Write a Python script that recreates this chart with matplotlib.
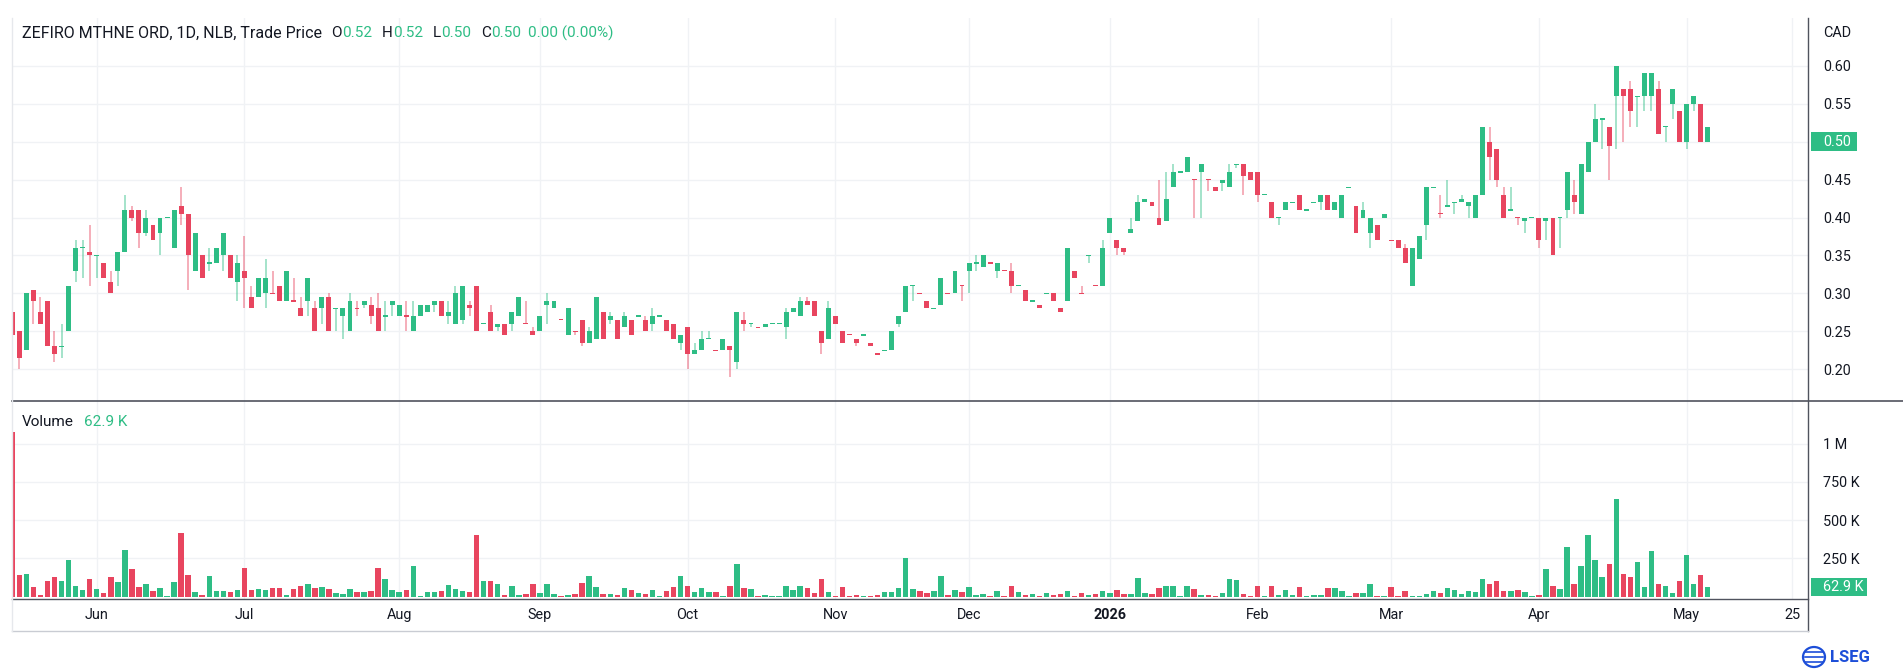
import numpy as np
import matplotlib
matplotlib.use("Agg")
import matplotlib.pyplot as plt
from matplotlib.patches import Rectangle, Ellipse
from matplotlib.lines import Line2D

plt.rcParams['font.family'] = ['Roboto', 'DejaVu Sans']

# ---------------- data (daily bars, index 0 = first visible bar) ----------------
opens = [
    0.275, 0.25, 0.225, 0.305, 0.275, 0.29, 0.23, 0.23, 0.25, 0.33,
    0.36, 0.355, 0.35, 0.34, 0.315, 0.33, 0.355, 0.41, 0.41, 0.38,
    0.39, 0.38, 0.40, 0.36, 0.415, 0.405, 0.33, 0.35, 0.34, 0.34,
    0.35, 0.35, 0.315, 0.33, 0.295, 0.295, 0.30, 0.30, 0.31, 0.29,
    0.29, 0.28, 0.29, 0.28, 0.28, 0.295, 0.28, 0.27, 0.25, 0.28,
    0.285, 0.285, 0.28, 0.27, 0.285, 0.27, 0.27, 0.25, 0.27, 0.275,
    0.285, 0.29, 0.27, 0.26, 0.265, 0.285, 0.31, 0.26, 0.275, 0.255,
    0.26, 0.26, 0.27, 0.26, 0.25, 0.25, 0.285, 0.28, 0.265, 0.245,
    0.25, 0.265, 0.235, 0.24, 0.275, 0.265, 0.265, 0.255, 0.265, 0.27,
    0.265, 0.26, 0.27, 0.265, 0.26, 0.235, 0.255, 0.22, 0.225, 0.24,
    0.225, 0.225, 0.23, 0.21, 0.265, 0.26, 0.255, 0.255, 0.26, 0.26,
    0.255, 0.275, 0.27, 0.29, 0.29, 0.25, 0.24, 0.27, 0.25, 0.246,
    0.24, 0.245, 0.235, 0.22, 0.225, 0.225, 0.26, 0.275, 0.31, 0.30,
    0.29, 0.28, 0.285, 0.30, 0.30, 0.31, 0.33, 0.34, 0.335, 0.34,
    0.33, 0.33, 0.33, 0.31, 0.305, 0.29, 0.285, 0.30, 0.30, 0.28,
    0.29, 0.33, 0.30, 0.35, 0.31, 0.31, 0.38, 0.37, 0.36, 0.38,
    0.395, 0.42, 0.42, 0.40, 0.395, 0.44, 0.46, 0.46, 0.45, 0.46,
    0.45, 0.44, 0.445, 0.44, 0.47, 0.47, 0.46, 0.46, 0.43, 0.42,
    0.40, 0.41, 0.42, 0.43, 0.41, 0.42, 0.42, 0.43, 0.41, 0.40,
    0.44, 0.415, 0.40, 0.38, 0.39, 0.40, 0.37, 0.37, 0.36, 0.31,
    0.345, 0.39, 0.44, 0.405, 0.415, 0.42, 0.42, 0.415, 0.40, 0.43,
    0.50, 0.49, 0.43, 0.41, 0.40, 0.395, 0.40, 0.40, 0.395, 0.40,
    0.40, 0.41, 0.43, 0.405, 0.46, 0.50, 0.53, 0.52, 0.56, 0.57,
    0.57, 0.56, 0.56, 0.56, 0.57, 0.52, 0.55, 0.54, 0.50, 0.55,
    0.55, 0.50,
]
highs = [
    0.275, 0.25, 0.30, 0.305, 0.295, 0.29, 0.25, 0.26, 0.31, 0.37,
    0.37, 0.39, 0.35, 0.34, 0.33, 0.355, 0.43, 0.415, 0.41, 0.41,
    0.39, 0.40, 0.40, 0.41, 0.44, 0.405, 0.38, 0.35, 0.36, 0.36,
    0.38, 0.35, 0.35, 0.375, 0.31, 0.32, 0.345, 0.33, 0.31, 0.33,
    0.32, 0.295, 0.32, 0.29, 0.295, 0.30, 0.28, 0.28, 0.30, 0.29,
    0.29, 0.295, 0.30, 0.29, 0.29, 0.285, 0.29, 0.29, 0.285, 0.285,
    0.29, 0.29, 0.29, 0.31, 0.31, 0.29, 0.31, 0.26, 0.285, 0.26,
    0.26, 0.275, 0.295, 0.29, 0.255, 0.27, 0.30, 0.29, 0.265, 0.28,
    0.25, 0.265, 0.255, 0.295, 0.275, 0.275, 0.265, 0.275, 0.265, 0.27,
    0.27, 0.28, 0.27, 0.265, 0.26, 0.245, 0.255, 0.235, 0.25, 0.25,
    0.225, 0.24, 0.23, 0.275, 0.275, 0.26, 0.255, 0.26, 0.26, 0.26,
    0.28, 0.28, 0.295, 0.295, 0.29, 0.25, 0.29, 0.27, 0.25, 0.246,
    0.24, 0.245, 0.235, 0.22, 0.225, 0.25, 0.27, 0.31, 0.31, 0.30,
    0.29, 0.28, 0.32, 0.30, 0.33, 0.31, 0.34, 0.35, 0.35, 0.34,
    0.34, 0.33, 0.34, 0.31, 0.305, 0.29, 0.285, 0.30, 0.30, 0.28,
    0.36, 0.33, 0.31, 0.35, 0.31, 0.37, 0.40, 0.37, 0.36, 0.40,
    0.43, 0.425, 0.42, 0.45, 0.46, 0.47, 0.46, 0.48, 0.45, 0.47,
    0.45, 0.44, 0.45, 0.47, 0.47, 0.47, 0.46, 0.46, 0.43, 0.42,
    0.40, 0.42, 0.42, 0.43, 0.41, 0.42, 0.43, 0.43, 0.42, 0.43,
    0.44, 0.415, 0.42, 0.40, 0.39, 0.405, 0.37, 0.37, 0.365, 0.36,
    0.375, 0.44, 0.44, 0.43, 0.45, 0.42, 0.43, 0.42, 0.43, 0.52,
    0.52, 0.49, 0.44, 0.44, 0.40, 0.40, 0.40, 0.40, 0.40, 0.40,
    0.40, 0.46, 0.45, 0.47, 0.50, 0.55, 0.53, 0.52, 0.60, 0.57,
    0.58, 0.56, 0.59, 0.59, 0.58, 0.52, 0.57, 0.54, 0.55, 0.56,
    0.55, 0.52,
]
lows = [
    0.245, 0.20, 0.225, 0.26, 0.26, 0.23, 0.21, 0.215, 0.25, 0.315,
    0.32, 0.31, 0.32, 0.32, 0.30, 0.31, 0.355, 0.395, 0.36, 0.375,
    0.37, 0.35, 0.40, 0.36, 0.39, 0.305, 0.33, 0.32, 0.33, 0.34,
    0.33, 0.32, 0.29, 0.28, 0.28, 0.295, 0.28, 0.30, 0.29, 0.29,
    0.29, 0.27, 0.27, 0.25, 0.26, 0.25, 0.25, 0.24, 0.25, 0.27,
    0.28, 0.26, 0.25, 0.25, 0.27, 0.27, 0.25, 0.25, 0.27, 0.275,
    0.275, 0.27, 0.26, 0.26, 0.26, 0.27, 0.25, 0.26, 0.25, 0.25,
    0.245, 0.25, 0.27, 0.26, 0.245, 0.25, 0.26, 0.28, 0.265, 0.245,
    0.245, 0.23, 0.235, 0.24, 0.24, 0.26, 0.24, 0.255, 0.245, 0.27,
    0.25, 0.25, 0.27, 0.25, 0.24, 0.225, 0.20, 0.22, 0.225, 0.24,
    0.225, 0.225, 0.19, 0.20, 0.25, 0.255, 0.255, 0.255, 0.26, 0.26,
    0.24, 0.275, 0.27, 0.285, 0.27, 0.22, 0.24, 0.26, 0.235, 0.245,
    0.23, 0.245, 0.23, 0.22, 0.225, 0.225, 0.255, 0.275, 0.29, 0.30,
    0.28, 0.28, 0.285, 0.30, 0.30, 0.29, 0.30, 0.33, 0.335, 0.34,
    0.32, 0.33, 0.30, 0.31, 0.29, 0.29, 0.28, 0.30, 0.29, 0.275,
    0.29, 0.32, 0.30, 0.34, 0.31, 0.31, 0.38, 0.35, 0.35, 0.38,
    0.395, 0.42, 0.415, 0.39, 0.395, 0.44, 0.46, 0.46, 0.40, 0.40,
    0.435, 0.435, 0.435, 0.44, 0.465, 0.43, 0.45, 0.42, 0.43, 0.40,
    0.39, 0.41, 0.42, 0.41, 0.41, 0.42, 0.41, 0.41, 0.41, 0.40,
    0.44, 0.38, 0.40, 0.36, 0.37, 0.40, 0.37, 0.36, 0.34, 0.31,
    0.345, 0.37, 0.44, 0.40, 0.415, 0.405, 0.42, 0.40, 0.40, 0.43,
    0.45, 0.44, 0.40, 0.41, 0.39, 0.38, 0.40, 0.36, 0.37, 0.35,
    0.36, 0.40, 0.405, 0.405, 0.46, 0.50, 0.49, 0.45, 0.49, 0.50,
    0.52, 0.52, 0.54, 0.54, 0.51, 0.50, 0.53, 0.50, 0.49, 0.54,
    0.50, 0.50,
]
closes = [
    0.245, 0.215, 0.30, 0.29, 0.26, 0.23, 0.22, 0.23, 0.31, 0.36,
    0.36, 0.35, 0.35, 0.32, 0.30, 0.355, 0.41, 0.40, 0.38, 0.40,
    0.37, 0.40, 0.40, 0.41, 0.405, 0.35, 0.38, 0.32, 0.34, 0.36,
    0.38, 0.32, 0.34, 0.32, 0.28, 0.32, 0.32, 0.30, 0.29, 0.33,
    0.29, 0.27, 0.32, 0.25, 0.295, 0.25, 0.28, 0.28, 0.29, 0.28,
    0.29, 0.27, 0.25, 0.27, 0.29, 0.285, 0.27, 0.27, 0.285, 0.285,
    0.29, 0.27, 0.275, 0.30, 0.31, 0.28, 0.25, 0.26, 0.25, 0.26,
    0.245, 0.275, 0.295, 0.26, 0.245, 0.27, 0.29, 0.29, 0.265, 0.28,
    0.25, 0.235, 0.25, 0.295, 0.24, 0.27, 0.24, 0.27, 0.245, 0.27,
    0.25, 0.27, 0.27, 0.25, 0.24, 0.245, 0.22, 0.225, 0.24, 0.24,
    0.225, 0.24, 0.225, 0.275, 0.26, 0.26, 0.255, 0.26, 0.26, 0.26,
    0.275, 0.28, 0.29, 0.285, 0.27, 0.235, 0.28, 0.26, 0.235, 0.245,
    0.235, 0.245, 0.23, 0.22, 0.225, 0.25, 0.27, 0.31, 0.31, 0.30,
    0.28, 0.28, 0.32, 0.30, 0.33, 0.31, 0.34, 0.34, 0.35, 0.34,
    0.34, 0.33, 0.31, 0.31, 0.29, 0.29, 0.28, 0.30, 0.29, 0.275,
    0.36, 0.32, 0.30, 0.35, 0.31, 0.36, 0.40, 0.36, 0.355, 0.385,
    0.42, 0.425, 0.415, 0.39, 0.425, 0.46, 0.46, 0.48, 0.45, 0.47,
    0.45, 0.435, 0.45, 0.46, 0.47, 0.455, 0.45, 0.43, 0.43, 0.40,
    0.40, 0.42, 0.42, 0.41, 0.41, 0.42, 0.43, 0.41, 0.42, 0.43,
    0.44, 0.38, 0.41, 0.40, 0.37, 0.405, 0.37, 0.36, 0.34, 0.36,
    0.375, 0.44, 0.44, 0.405, 0.415, 0.42, 0.425, 0.42, 0.43, 0.52,
    0.48, 0.45, 0.40, 0.41, 0.40, 0.40, 0.40, 0.37, 0.40, 0.35,
    0.40, 0.46, 0.42, 0.47, 0.50, 0.53, 0.53, 0.495, 0.60, 0.56,
    0.54, 0.56, 0.59, 0.59, 0.51, 0.52, 0.57, 0.50, 0.55, 0.56,
    0.50, 0.52,
]
volumes_k = [
    1076, 141, 148, 65, 11, 102, 128, 102, 239, 72,
    43, 115, 50, 24, 128, 96, 304, 180, 65, 83,
    37, 57, 7, 96, 417, 141, 30, 11, 135, 37,
    37, 30, 43, 187, 43, 50, 43, 57, 57, 11,
    50, 70, 83, 57, 63, 50, 24, 17, 50, 30,
    30, 37, 187, 115, 43, 30, 43, 200, 4, 30,
    30, 37, 76, 50, 37, 30, 400, 102, 102, 83,
    11, 70, 11, 17, 83, 24, 83, 17, 2, 11,
    17, 89, 135, 63, 17, 17, 11, 57, 43, 24,
    17, 43, 2, 37, 63, 135, 70, 30, 57, 30,
    30, 7, 70, 213, 57, 50, 2, 11, 4, 2,
    70, 43, 70, 57, 24, 115, 30, 4, 63, 4,
    11, 4, 4, 11, 30, 30, 57, 250, 50, 37,
    24, 37, 135, 11, 43, 30, 63, 11, 17, 4,
    37, 4, 70, 30, 11, 17, 4, 24, 11, 17,
    37, 4, 24, 11, 17, 37, 24, 43, 17, 17,
    122, 24, 17, 57, 70, 70, 4, 70, 50, 11,
    11, 4, 24, 115, 109, 17, 4, 70, 2, 70,
    11, 43, 11, 63, 4, 11, 11, 57, 57, 37,
    2, 24, 24, 83, 2, 2, 63, 4, 37, 4,
    4, 17, 37, 24, 57, 43, 17, 37, 30, 115,
    83, 102, 37, 37, 43, 30, 4, 11, 180, 70,
    50, 322, 83, 200, 404, 237, 128, 213, 635, 148,
    128, 224, 63, 296, 83, 70, 24, 102, 270, 83,
    141, 62.9,
]

month_labels = ["Jun", "Jul", "Aug", "Sep", "Oct", "Nov", "Dec", "2026",
                "Feb", "Mar", "Apr", "May", "25"]
month_bar_index = [12, 33, 55, 75, 96, 117, 136, 156, 177, 196, 217, 238, 253]

price_ticks = [0.20, 0.25, 0.30, 0.35, 0.40, 0.45, 0.50, 0.55, 0.60]
volume_ticks_k = [250, 500, 750, 1000]
volume_tick_labels = ["250 K", "500 K", "750 K", "1 M"]

title_text = "ZEFIRO MTHNE ORD, 1D, NLB, Trade Price"
last_quote = [("O", "0.52"), ("H", "0.52"), ("L", "0.50"), ("C", "0.50")]
last_change = "0.00 (0.00%)"
last_price = 0.50
last_volume_label = "62.9 K"

# ---------------- styling ----------------
GREEN = '#2ebd85'
RED = '#e8455f'
DARK = '#131722'
GRID = '#f0f2f5'
LINE = '#50535e'
BLUE = '#1d4ed8'
FS_AX = 10.4
FS_HDR = 11
FS_TITLE = 11.55

n = len(closes)
up = []
for i in range(n):
    if closes[i] > opens[i]:
        up.append(True)
    elif closes[i] < opens[i]:
        up.append(False)
    else:
        up.append(i == 0 or closes[i] >= closes[i - 1])
colors = [GREEN if u else RED for u in up]

W, H, DPI = 1903, 671, 100
fig = plt.figure(figsize=(W / DPI, H / DPI), dpi=DPI, facecolor='white')

PL, PR = 12, 1808
P_TOP, P_BOT = 18, 400.5
V_BOT = 598.5
T_BOT = 631


def fx(px):
    return px / W


def fy(py):
    return 1 - py / H


ax_p = fig.add_axes([fx(PL), fy(P_BOT), (PR - PL) / W, (P_BOT - P_TOP) / H])
ax_v = fig.add_axes([fx(PL), fy(V_BOT), (PR - PL) / W, (V_BOT - P_BOT) / H], sharex=ax_p)

x = np.arange(n)
o = np.array(opens)
c = np.array(closes)
hi = np.array(highs)
lo = np.array(lows)

# wicks
ax_p.vlines(x, lo, hi, colors=colors, linewidth=1.1, alpha=0.55, zorder=2)
# bodies
min_h = 0.0017
b_lo = np.minimum(o, c)
b_h = np.abs(c - o)
doji = b_h < min_h
b_bottom = np.where(doji, (o + c) / 2 - min_h / 2, b_lo)
b_h = np.maximum(b_h, min_h)
ax_p.bar(x, b_h, bottom=b_bottom, width=0.7, color=colors, linewidth=0, zorder=3)

# volume
ax_v.bar(x, volumes_k, width=0.78, color=colors, linewidth=0, zorder=3)

ax_p.set_xlim(-0.04, 255.25)
ax_p.set_ylim(0.1586, 0.6632)
ax_v.set_ylim(-11.7, 1280.7)

for ax in (ax_p, ax_v):
    for s in ax.spines.values():
        s.set_visible(False)
    ax.set_facecolor('white')
    ax.grid(True, color=GRID, linewidth=1, zorder=0)
    ax.set_axisbelow(True)
    ax.yaxis.tick_right()
    ax.tick_params(axis='y', length=0, pad=10.8, labelsize=FS_AX, labelcolor=DARK)

ax_p.set_yticks(price_ticks)
ax_p.set_yticklabels([f"{t:.2f}" for t in price_ticks])
ax_p.tick_params(axis='x', length=0, labelbottom=False)

ax_v.set_yticks(volume_ticks_k)
ax_v.set_yticklabels(volume_tick_labels)
ax_v.set_xticks(month_bar_index)
ax_v.set_xticklabels(month_labels)
ax_v.tick_params(axis='x', length=0, pad=7, labelsize=FS_AX, labelcolor=DARK)
for lbl in ax_v.get_xticklabels():
    if lbl.get_text() == "2026":
        lbl.set_fontweight('bold')


# frame lines
def fline(x0, y0, x1, y1, color, lw=1.0):
    fig.add_artist(Line2D([fx(x0), fx(x1)], [fy(y0), fy(y1)], color=color,
                          linewidth=lw, transform=fig.transFigure, zorder=5))


fline(PR, P_TOP, PR, T_BOT, LINE, 1.0)
fline(PL, P_BOT, W, P_BOT, LINE, 1.2)
fline(PL, V_BOT, PR, V_BOT, LINE, 1.0)
fline(PL, T_BOT, PR, T_BOT, '#c9ccd3', 1.0)
fline(PL, P_TOP, PL, T_BOT, '#e6e8ec', 1.0)

# price axis unit
fig.text(fx(1823), fy(33), "CAD", fontsize=FS_AX, color=DARK, va='center', ha='left')


def value_tag(ax, val, text, x0, x1, h=18.5):
    yfig = fig.transFigure.inverted().transform(ax.transData.transform((0, val)))[1]
    fig.add_artist(Rectangle((fx(x0), yfig - h / 2 / H), (x1 - x0) / W, h / H,
                             transform=fig.transFigure, facecolor=GREEN,
                             edgecolor='none', zorder=6))
    fig.text(fx(1823), yfig, text, color='white', fontsize=FS_AX, va='center',
             ha='left', zorder=7)


value_tag(ax_p, last_price, f"{last_price:.2f}", 1811, 1857)
value_tag(ax_v, volumes_k[-1], last_volume_label, 1811, 1867)

# header legends
renderer = fig.canvas.get_renderer()


def pieces(x0, ypx, items):
    xx = x0
    for txt, col, gap, size in items:
        xx += gap
        t = fig.text(fx(xx), fy(ypx), txt, color=col, fontsize=size,
                     va='center', ha='left')
        xx += t.get_window_extent(renderer=renderer).width


items = [(title_text, DARK, 0, FS_TITLE)]
for lab, val in last_quote:
    items.append((lab, DARK, 9, FS_HDR))
    items.append((val, GREEN, 1, FS_HDR))
items.append((last_change, GREEN, 6, FS_HDR))
pieces(22, 33, items)

pieces(22, 422, [("Volume", DARK, 0, FS_HDR), (last_volume_label, GREEN, 10, FS_HDR)])

# LSEG mark
fig.add_artist(Ellipse((fx(1814), fy(657)), 22 / W, 20 / H, transform=fig.transFigure,
                       facecolor='none', edgecolor=BLUE, linewidth=1.6))
for dy in (-5, 0, 5):
    fline(1805, 657 + dy, 1823, 657 + dy, BLUE, 1.2)
fig.text(fx(1830), fy(657), "LSEG", color=BLUE, fontsize=12, fontweight='bold',
         va='center', ha='left')

fig.savefig("out.png", dpi=DPI, facecolor='white')
